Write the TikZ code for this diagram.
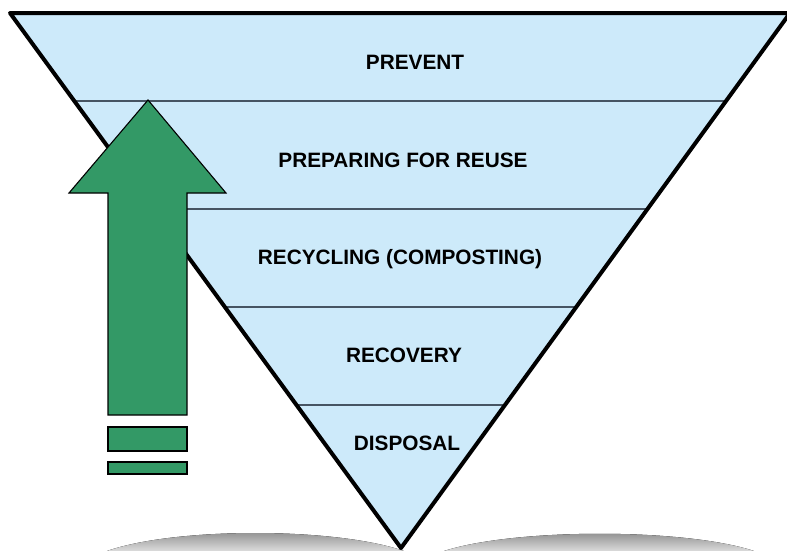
\documentclass[tikz,border=0pt]{standalone}
\usepackage{fontspec}
\setmainfont{Liberation Sans}
\usepackage{tikz}
\usetikzlibrary{calc}
\definecolor{funnel}{RGB}{205,234,250}
\definecolor{arrowgreen}{RGB}{51,153,102}
\definecolor{divider}{RGB}{70,84,98}
\definecolor{shade}{RGB}{178,178,178}

\begin{document}
\begin{tikzpicture}[x=1pt,y=-1pt,
  level/.style={font=\fontsize{20.8}{24}\selectfont\bfseries, inner sep=0pt},
  block/.style={fill=arrowgreen, draw=black, line width=1.1pt, line join=miter}]
\useasboundingbox (0,0) rectangle (787,550);
\coordinate (tl) at (10,13);
\coordinate (tr) at (790,13);
\coordinate (ap) at (401,548);
% shadow under the funnel
\fill[shade] (107,551) .. controls (175,527) and (335,527) .. (404,551) -- (404,560) -- (107,560) -- cycle;
\fill[shade] (444,551) .. controls (515,528) and (685,528) .. (754,551) -- (754,560) -- (444,560) -- cycle;
% funnel
\fill[funnel] (tl) -- (tr) -- (ap) -- cycle;
\foreach \y in {101,209,307,405}
{
  \pgfmathsetmacro\t{(\y-13)/535}
  \draw[divider, line width=1.3pt] ($(tl)!\t!(ap)$) -- ($(tr)!\t!(ap)$);
}
\draw[line width=4pt, line join=round] (tl) -- (tr) -- (ap) -- cycle;
\node[level] (prevent)   at (415,62)  {PREVENT};
\node[level] (reuse)     at (403,160) {PREPARING FOR REUSE};
\node[level] (recycling) at (400,259) {RECYCLING (COMPOSTING)};
\node[level] (recovery)  at (404,355) {RECOVERY};
\node[level] (disposal)  at (407,443) {DISPOSAL};
% arrow
\draw[block] (148,100) -- (226,193) -- (187,193) -- (187,415) -- (108,415) -- (108,193) -- (69,193) -- cycle;
\draw[block] (108,427) rectangle (187,451);
\draw[block] (108,462) rectangle (187,474);
\end{tikzpicture}
\end{document}
